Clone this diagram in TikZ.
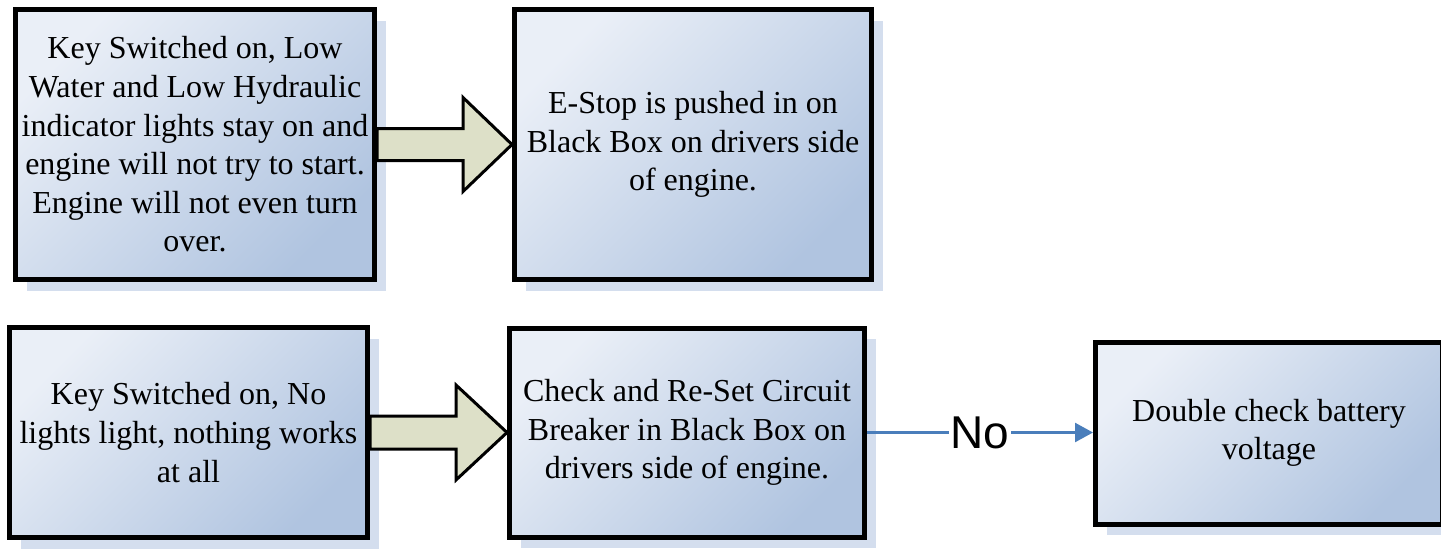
\documentclass[tikz,border=0pt]{standalone}
\usepackage{fontspec}
\setmainfont{Liberation Serif}
\newfontfamily\boxfont{Liberation Serif}
\newfontfamily\labelfont{Liberation Sans}
\usetikzlibrary{calc,arrows.meta}
\definecolor{boxlight}{RGB}{234,239,247}
\definecolor{boxdark}{RGB}{176,196,224}
\definecolor{shadowc}{RGB}{212,222,238}
\definecolor{arrowfill}{RGB}{221,224,200}
\definecolor{linkblue}{RGB}{74,126,187}
\tikzset{
  flowbox/.style={rectangle, draw=black, line width=5pt, inner sep=0pt,
    top color=boxlight, bottom color=boxdark, shading angle=45,
    preaction={fill=shadowc, transform canvas={xshift=11pt,yshift=-11pt}},
    align=center, font=\boxfont\fontsize{32}{38.6}\selectfont},
  blockarrow/.style={draw=black, line width=3pt, fill=arrowfill, line join=miter},
  link/.style={draw=linkblue, line width=2.5pt, -{Triangle[length=18pt,width=19pt]}},
  linklabel/.style={fill=white, inner xsep=1.5pt, inner ysep=2pt, font=\labelfont\fontsize{46}{50}\selectfont}
}
\begin{document}
\begin{tikzpicture}[x=1pt,y=-1pt]
\useasboundingbox (0,0) rectangle (1441,549);
\clip (0,0) rectangle (1441,549);
\node[flowbox, minimum width=359pt, minimum height=270pt] (b1) at (195,144.5)
  {Key Switched on, Low\\Water and Low Hydraulic\\indicator lights stay on and\\engine will not try to start.\\Engine will not even turn\\over.};
\node[flowbox, minimum width=357pt, minimum height=270pt] (b2) at (693,144.5)
  {E-Stop is pushed in on\\Black Box on drivers side\\of engine.};
\node[flowbox, minimum width=358pt, minimum height=210pt] (b3) at (188.5,432.5)
  {Key Switched on, No\\lights light, nothing works\\at all};
\node[flowbox, minimum width=355pt, minimum height=209pt] (b4) at (687,432.5)
  {Check and Re-Set Circuit\\Breaker in Black Box on\\drivers side of engine.};
\node[flowbox, minimum width=347pt, minimum height=182pt] (b5) at (1269,433)
  {Double check battery\\voltage};
% block arrows
\draw[blockarrow] ($(b1.east)+(0,-16)$) -- ($(b2.west)+(-49,-16)$) -- ($(b2.west)+(-49,-47)$)
  -- (b2.west) -- ($(b2.west)+(-49,47)$) -- ($(b2.west)+(-49,16)$) -- ($(b1.east)+(0,16)$) -- cycle;
\draw[blockarrow] ($(b3.east)+(0,-16.5)$) -- ($(b4.west)+(-51,-16.5)$) -- ($(b4.west)+(-51,-47.5)$)
  -- (b4.west) -- ($(b4.west)+(-51,47.5)$) -- ($(b4.west)+(-51,16.5)$) -- ($(b3.east)+(0,16.5)$) -- cycle;
% connector
\draw[link] (b4.east) -- node[linklabel] (no) {No} (b4.east -| b5.west);
\end{tikzpicture}
\end{document}
